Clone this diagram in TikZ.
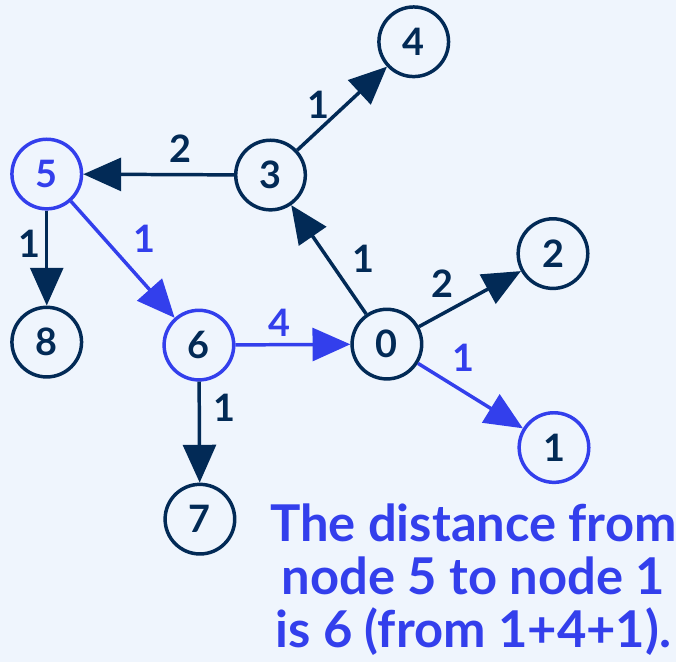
\documentclass[tikz,border=0pt]{standalone}
\usepackage{fontspec}
\setmainfont{Lato}
\usetikzlibrary{arrows.meta}
\definecolor{Navy}{HTML}{022A56}
\definecolor{Hilite}{HTML}{333FEC}
\definecolor{Paper}{HTML}{EFF5FD}

\begin{document}
\begin{tikzpicture}[
  x=1pt,y=-1pt,
  every node/.style={font=\fontsize{38}{40}\selectfont\bfseries},
  vtx/.style={circle,draw=Navy,line width=3.5pt,minimum size=70pt,inner sep=0pt,text=Navy},
  hl/.style={draw=Hilite},
  arr/.style={-{Triangle[length=38pt,width=33pt]},line width=3.5pt,color=Navy},
  hlarr/.style={arr,color=Hilite},
  wt/.style={text=Navy,inner sep=0pt},
  hlwt/.style={wt,text=Hilite}
]
\fill[Paper] (0,0) rectangle (680,666);
% vertices
\node[vtx] (n0) at (389,346) {0};
\node[vtx,hl] (n1) at (557,450) {1};
\node[vtx] (n2) at (556,255) {2};
\node[vtx] (n3) at (272,176) {3};
\node[vtx] (n4) at (416,42) {4};
\node[vtx,hl,text=Hilite] (n5) at (47,175) {5};
\node[vtx,hl] (n6) at (200,347) {6};
\node[vtx] (n7) at (201,522) {7};
\node[vtx] (n8) at (47,344) {8};
% edges
\draw[arr] (n3) -- (n4);
\draw[arr] (n3) -- (n5);
\draw[arr] (n5) -- (n8);
\draw[hlarr] (n5) -- (n6);
\draw[hlarr] (n6) -- (n0);
\draw[arr] (n6) -- (n7);
\draw[arr] (n0) -- (n3);
\draw[arr] (n0) -- (n2);
\draw[hlarr] (n0) -- (n1);
% weights
\node[wt] (w34) at (320,105) {1};
\node[wt] (w35) at (181,150) {2};
\node[wt] (w58) at (30,245) {1};
\node[hlwt] (w56) at (145,240) {1};
\node[hlwt] (w60) at (281,325) {4};
\node[wt] (w67) at (226,410) {1};
\node[wt] (w03) at (365,260) {1};
\node[wt] (w02) at (445,285) {2};
\node[hlwt] (w01) at (466,360) {1};
% caption
\node[align=center,text=Hilite,font=\fontsize{51}{53}\selectfont\bfseries] (note) at (476,583)
  {The distance from\\node 5 to node 1\\is 6 (from 1+4+1).};
\end{tikzpicture}
\end{document}
